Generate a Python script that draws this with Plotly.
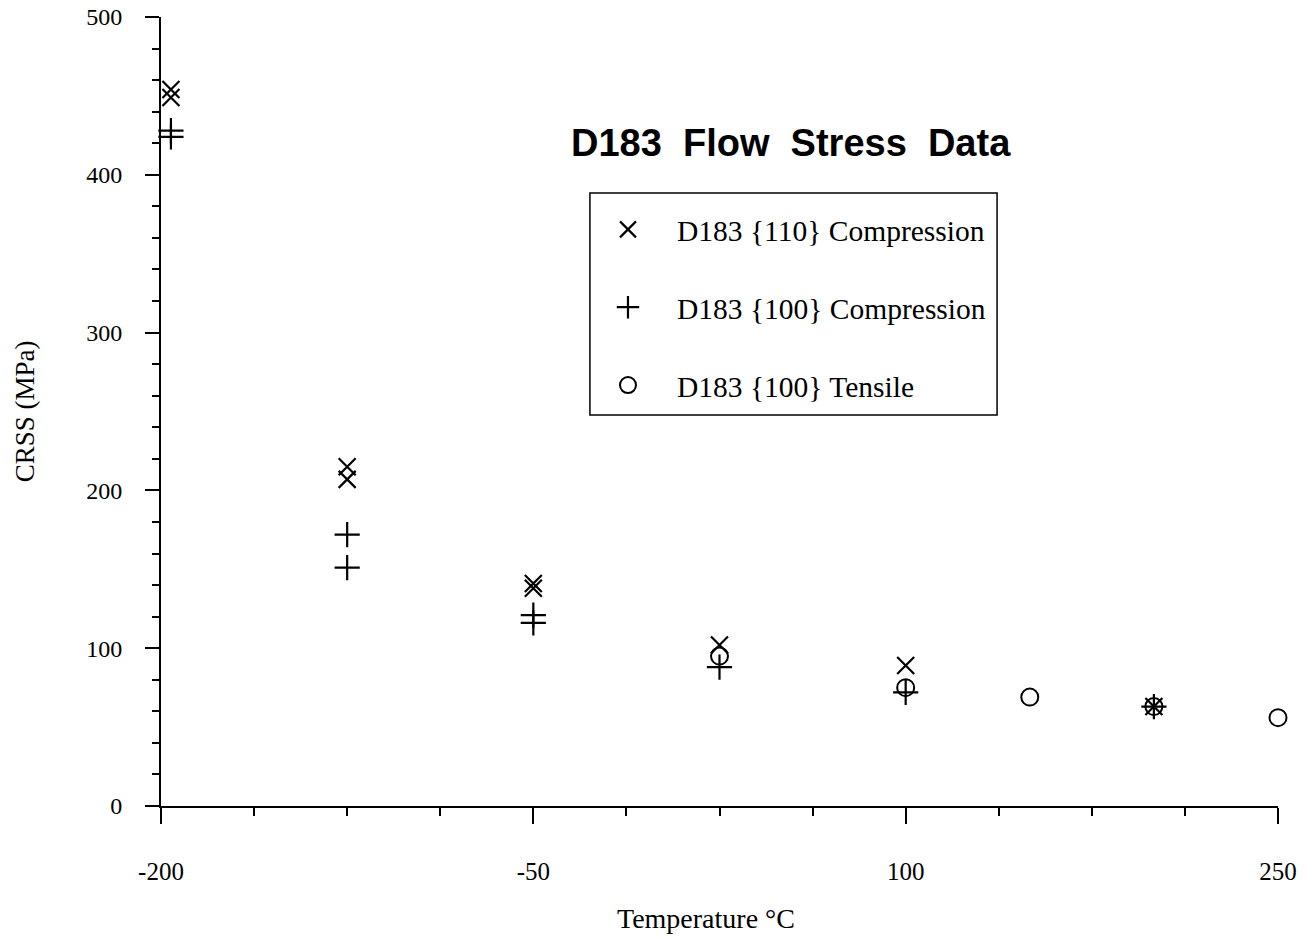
import plotly.graph_objects as go

# Temperature (°C) and critical resolved shear stress (MPa)
t_110_comp = [-196, -196, -125, -125, -50, -50, 25, 100, 200]
crss_110_comp = [454, 449, 215, 207, 141, 138, 102, 89, 63]

t_100_comp = [-196, -196, -125, -125, -50, -50, 25, 100, 200]
crss_100_comp = [428, 424, 172, 151, 121, 116, 88, 72, 63]

t_100_tens = [25, 100, 150, 200, 250]
crss_100_tens = [95, 75, 69, 63, 56]

x_ticks = [-200, -50, 100, 250]
x_tick_text = ["-200", "-50", "100", "250"]
y_ticks = [0, 100, 200, 300, 400, 500]

SERIF = "Liberation Serif, Times New Roman, serif"
SANS = "Liberation Sans, Arial, sans-serif"

fig = go.Figure()

fig.add_trace(go.Scatter(
    x=t_110_comp, y=crss_110_comp, mode="markers",
    name="D183 {110} Compression", legendgroup="a",
    marker=dict(symbol="x-thin-open", size=17, color="black",
                line=dict(width=2.2, color="black")),
    cliponaxis=False,
))
fig.add_trace(go.Scatter(
    x=t_100_comp, y=crss_100_comp, mode="markers",
    name="D183 {100} Compression", legendgroup="b",
    marker=dict(symbol="cross-thin-open", size=18, color="black",
                line=dict(width=2.2, color="black")),
    cliponaxis=False,
))
fig.add_trace(go.Scatter(
    x=t_100_tens, y=crss_100_tens, mode="markers",
    name="D183 {100} Tensile", legendgroup="c",
    marker=dict(symbol="circle-open", size=17, color="black",
                line=dict(width=2, color="black")),
    cliponaxis=False,
))

axis_common = dict(
    showline=True, linecolor="black", linewidth=2,
    showgrid=False, zeroline=False, automargin=False,
    ticks="outside", tickcolor="black", tickwidth=1.5,
)

fig.update_xaxes(
    range=[-200, 250], tickmode="array", tickvals=x_ticks, ticktext=x_tick_text,
    ticklen=16, ticklabelstandoff=26,
    tickfont=dict(family=SERIF, size=25, color="black"),
    minor=dict(tick0=-200, dtick=37.5, ticks="outside", ticklen=8,
               tickcolor="black", tickwidth=1.5),
    **axis_common,
)
fig.update_yaxes(
    range=[0, 500], tickmode="array", tickvals=y_ticks,
    ticklen=14, ticklabelstandoff=18,
    tickfont=dict(family=SERIF, size=24, color="black"),
    minor=dict(tick0=0, dtick=20, ticks="outside", ticklen=7,
               tickcolor="black", tickwidth=1.5),
    **axis_common,
)

fig.update_layout(
    width=1308, height=939,
    margin=dict(l=161, r=30, t=17, b=133),
    plot_bgcolor="white", paper_bgcolor="white",
    showlegend=True,
    legend=dict(
        x=0.3742, y=0.7634, xanchor="left", yanchor="top",
        borderwidth=0, bgcolor="rgba(0,0,0,0)",
        font=dict(family=SERIF, size=29.5, color="black"),
        tracegroupgap=36.5, itemsizing="trace", itemwidth=88,
    ),
    shapes=[
        # legend frame
        dict(type="rect", xref="paper", yref="paper",
             x0=0.384, x1=0.7485, y0=0.4956, y1=0.7769,
             line=dict(color="black", width=1.5), fillcolor="rgba(0,0,0,0)"),
    ],
    annotations=[
        dict(text="<b>D183  Flow  Stress  Data</b>", xref="paper", yref="paper",
             x=0.564, y=0.840, xanchor="center", yanchor="middle",
             showarrow=False, font=dict(family=SANS, size=38, color="black")),
        dict(text="Temperature °C", xref="paper", yref="paper",
             x=0.488, y=-0.142, xanchor="center", yanchor="middle",
             showarrow=False, font=dict(family=SERIF, size=28, color="black")),
        dict(text="CRSS (MPa)", xref="paper", yref="paper",
             x=-0.122, y=0.50, xanchor="center", yanchor="middle", textangle=-90,
             showarrow=False, font=dict(family=SERIF, size=27, color="black")),
    ],
)

fig.write_html("out.html")
